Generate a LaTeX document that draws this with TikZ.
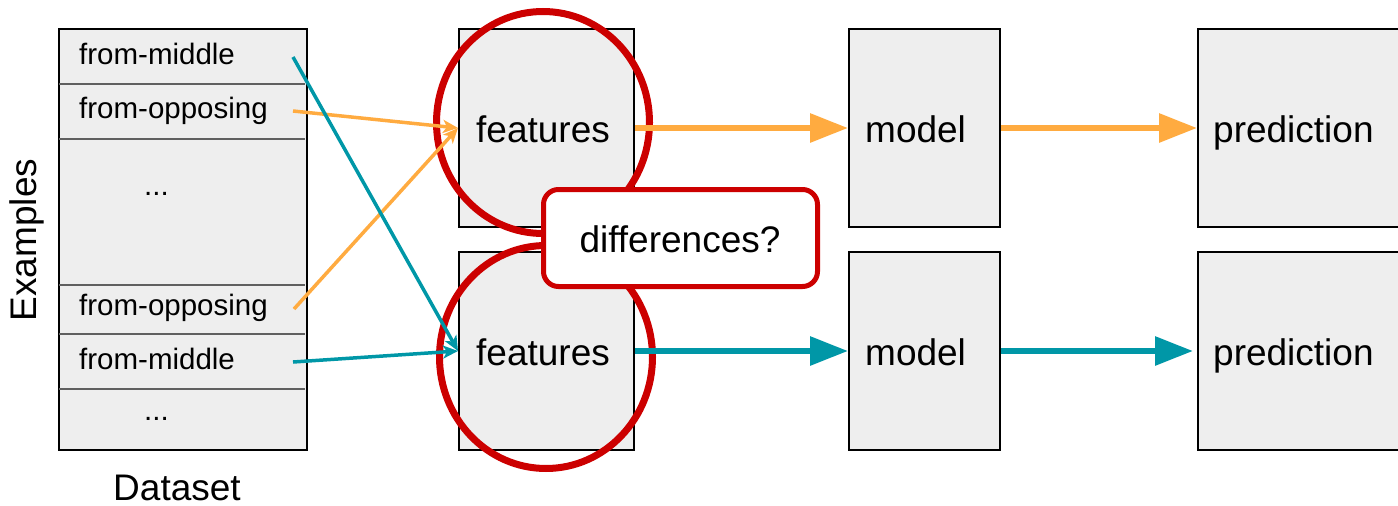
\documentclass[tikz,border=0pt]{standalone}
\usepackage{fontspec}
\setmainfont{Liberation Sans}
\usetikzlibrary{arrows.meta}
\definecolor{boxfill}{HTML}{EEEEEE}
\definecolor{rowline}{HTML}{5F5F5F}
\definecolor{orangeflow}{HTML}{FFAB40}
\definecolor{tealflow}{HTML}{0097A7}
\definecolor{alertred}{HTML}{CC0000}
\tikzset{
  stagebox/.style={draw=black, line width=2pt, fill=boxfill, inner sep=0pt, anchor=north west},
  bigtext/.style={font=\fontsize{37}{44}\selectfont, inner sep=0pt},
  rowtext/.style={font=\fontsize{29.5}{35}\selectfont, inner sep=0pt, anchor=base west},
  feed/.style={line width=3.5pt, -{Stealth[length=15pt,width=13pt,inset=4pt]}},
  flow/.style={line width=6pt, -{Triangle[length=38pt,width=28pt]}},
  ring/.style={draw=alertred, line width=7pt},
}
\begin{document}
\begin{tikzpicture}[x=1pt,y=-1pt]
\useasboundingbox (0,0) rectangle (1398,506);

% dataset table
\node[stagebox, minimum width=248pt, minimum height=421pt] (ds) at (58,28) {};
\foreach \yy in {84,139,285,334,389}
  \draw[rowline, line width=1.6pt] (59,\yy) -- (305,\yy);
\node[rowtext] (r1) at (79,64) {from-middle};
\node[rowtext] (r2) at (79,118) {from-opposing};
\node[bigtext, font=\fontsize{29.5}{35}\selectfont, anchor=base] (r3) at (156.5,195) {...};
\node[rowtext] (r4) at (79,315) {from-opposing};
\node[rowtext] (r5) at (79,369) {from-middle};
\node[bigtext, font=\fontsize{29.5}{35}\selectfont, anchor=base] (r6) at (156.5,420) {...};
\node[bigtext, rotate=90, anchor=base] (ex) at (36.5,240) {Examples};
\node[bigtext, anchor=base] (dl) at (177,500) {Dataset};

% pipeline stages
\node[stagebox, minimum width=175pt, minimum height=198pt] (fe1) at (458,28) {};
\node[stagebox, minimum width=175pt, minimum height=198pt] (fe2) at (458,251) {};
\node[stagebox, minimum width=151pt, minimum height=198pt] (mo1) at (848,28) {};
\node[stagebox, minimum width=151pt, minimum height=198pt] (mo2) at (848,251) {};
\node[stagebox, minimum width=220pt, minimum height=198pt] (pr1) at (1197,28) {};
\node[stagebox, minimum width=220pt, minimum height=198pt] (pr2) at (1197,251) {};

\node[bigtext, anchor=base west] (tf1) at (476,142) {features};
\node[bigtext, anchor=base west] (tf2) at (476,365) {features};
\node[bigtext, anchor=base west] (tm1) at (865,142) {model};
\node[bigtext, anchor=base west] (tm2) at (865,365) {model};
\node[bigtext, anchor=base west] (tp1) at (1213,142) {prediction};
\node[bigtext, anchor=base west] (tp2) at (1213,365) {prediction};

% highlight rings around the feature boxes
\draw[ring] (543,122.5) ellipse [x radius=106.5, y radius=111];
\draw[ring] (546,357) ellipse [x radius=106.5, y radius=111.5];

% example rows feeding the two feature sets
\coordinate (s1) at (293,57);
\coordinate (s2) at (293,111);
\coordinate (s4) at (294,309);
\coordinate (s5) at (293,362);
\draw[feed, orangeflow] (s2) -- (fe1.west);
\draw[feed, orangeflow] (s4) -- (fe1.west);
\draw[feed, tealflow] (s1) -- (fe2.west);
\draw[feed, tealflow] (s5) -- (fe2.west);

% stage-to-stage flow
\draw[flow, orangeflow] (fe1.east) -- (mo1.west);
\draw[flow, orangeflow] (mo1.east) -- (pr1.west);
\draw[flow, tealflow] (fe2.east) -- (mo2.west);
\draw[flow, tealflow] (mo2.east) -- ([xshift=-4pt]pr2.west);

% callout
\node[draw=alertred, line width=5pt, fill=white, rounded corners=15pt,
      minimum width=274pt, minimum height=97pt, inner sep=0pt] (cb) at (680.5,238) {};
\node[bigtext, anchor=base] (ct) at (680,252) {differences?};
\end{tikzpicture}
\end{document}
